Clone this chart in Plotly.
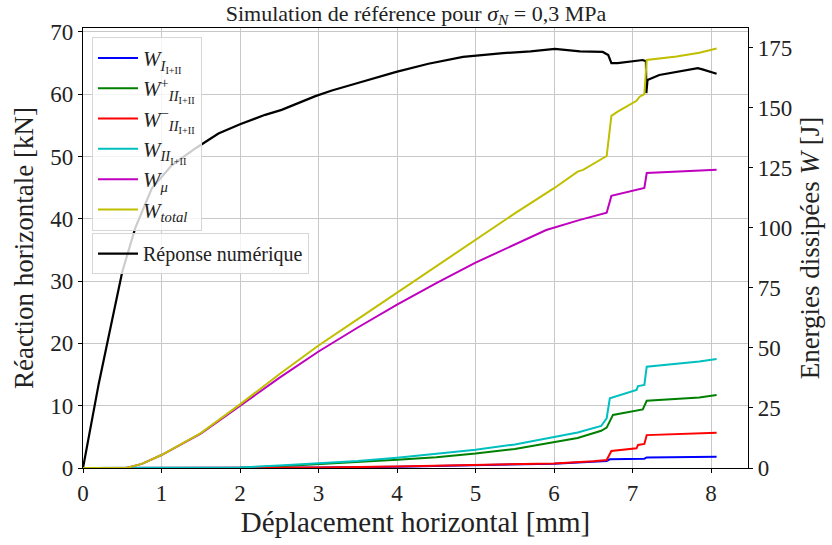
import plotly.graph_objects as go

# ---- data ----
x_rep = [0, 0.1, 0.2, 0.3, 0.4, 0.5, 0.665, 0.877, 1.13, 1.43, 1.725, 2.0, 2.32, 2.53, 2.96, 3.17, 3.5,
         3.99, 4.4, 4.84, 5.35, 5.7, 6.01, 6.1, 6.33, 6.62, 6.69, 6.73, 6.81, 7.13, 7.17, 7.175, 7.19,
         7.34, 7.56, 7.83, 7.89, 8.07]
f_rep = [0, 7, 13.5, 19.5, 25.5, 31.5, 38.5, 44.9, 48.6, 51.3, 53.7, 55.2, 56.7, 57.5, 59.7, 60.6, 61.8,
         63.6, 64.9, 66.0, 66.6, 66.9, 67.3, 67.2, 66.9, 66.8, 66.3, 65.0, 65.0, 65.5, 65.3, 60.2, 62.3,
         63.1, 63.6, 64.2, 64.0, 63.3]

x_wI = [0, 2, 3, 4, 5, 6, 6.67, 6.71, 7.15, 7.18, 8.07]
w_I = [0, 0, 0.2, 0.5, 1.0, 1.8, 2.9, 3.6, 3.9, 4.4, 4.7]

x_wIIp = [0, 1.5, 2, 2.5, 3, 3.5, 4, 4.5, 5, 5.5, 6, 6.3, 6.6, 6.67, 6.75, 7.13, 7.18, 7.85, 8.07]
w_IIp = [0, 0, 0.1, 0.7, 1.5, 2.3, 3.4, 4.5, 6.0, 7.9, 10.6, 12.5, 15.5, 16.8, 22.1, 24.4, 28.0, 29.4, 30.4]

x_wIIm = [0, 2, 3, 4, 5, 5.5, 6, 6.5, 6.67, 6.73, 7.05, 7.07, 7.15, 7.18, 7.6, 8.07]
w_IIm = [0, 0, 0.2, 0.6, 1.1, 1.5, 1.9, 2.8, 3.3, 7.1, 8.2, 9.6, 10.0, 13.7, 14.1, 14.7]

x_wII = [0, 1.5, 2, 2.5, 3, 3.5, 4, 4.5, 5, 5.5, 6, 6.3, 6.6, 6.67, 6.71, 7.05, 7.07, 7.15, 7.18, 7.68, 7.85, 8.07]
w_II = [0, 0, 0.2, 1.0, 2.0, 2.9, 4.3, 5.8, 7.6, 9.8, 12.9, 14.8, 17.5, 20.7, 29.0, 32.5, 34.1, 34.6, 42.2, 43.6, 44.3, 45.4]

x_wmu = [0, 0.55, 0.75, 1, 1.5, 2, 2.5, 3, 3.5, 4, 4.5, 5, 5.5, 5.9, 6.33, 6.67, 6.73, 7.15, 7.18, 7.6, 8.07]
w_mu = [0, 0, 1.7, 5.4, 14.3, 26, 37.5, 48.5, 58.5, 68, 77, 85.5, 93, 99.1, 103.3, 106.3, 113.3, 116.6, 122.8, 123.5, 124.2]

x_wtot = [0, 0.55, 0.75, 1.0, 1.5, 2, 2.5, 3, 3.5, 4, 4.5, 5, 5.5, 6, 6.3, 6.37, 6.67, 6.73, 6.81, 7.05, 7.09, 7.15, 7.18,
          7.56, 7.85, 8.07]
w_tot = [0, 0, 1.7, 5.4, 14.5, 26.5, 39, 51, 62, 73, 84, 95, 106, 116.5, 123.4, 124.1, 129.9, 146.6, 148.4, 152.9, 154.6,
         155.7, 169.9, 171.3, 172.9, 174.7]

x_ticks = [0, 1, 2, 3, 4, 5, 6, 7, 8]
yl_ticks = [0, 10, 20, 30, 40, 50, 60, 70]
yr_ticks = [0, 25, 50, 75, 100, 125, 150, 175]

FONT = "Liberation Serif"

fig = go.Figure()

energy = [
    (x_wI, w_I, "#0000ff", "<i>W</i><sub><i>I</i><sub>I+II</sub></sub>"),
    (x_wIIp, w_IIp, "#008000", "<i>W</i><sup>+</sup><sub><i>II</i><sub>I+II</sub></sub>"),
    (x_wIIm, w_IIm, "#ff0000", "<i>W</i><sup>−</sup><sub><i>II</i><sub>I+II</sub></sub>"),
    (x_wII, w_II, "#00bfbf", "<i>W</i><sub><i>II</i><sub>I+II</sub></sub>"),
    (x_wmu, w_mu, "#bf00bf", "<i>W</i><sub><i>μ</i></sub>"),
    (x_wtot, w_tot, "#bfbf00", "<i>W</i><sub><i>total</i></sub>"),
]
for i, (xx, yy, col, name) in enumerate(energy):
    fig.add_trace(go.Scatter(x=xx, y=yy, mode="lines", name=name, yaxis="y2",
                             line=dict(color=col, width=2), legend="legend"))

fig.add_trace(go.Scatter(x=x_rep, y=f_rep, mode="lines", name="Réponse numérique", yaxis="y",
                         line=dict(color="black", width=2.2), legend="legend2"))

axis_common = dict(showline=True, linecolor="black", linewidth=1.2, ticks="outside", ticklen=4,
                   tickcolor="black", tickfont=dict(family=FONT, size=23, color="#222"),
                   zeroline=False, automargin=False)

fig.update_layout(
    width=832, height=545,
    margin=dict(l=83, r=84, t=28, b=77),
    paper_bgcolor="white", plot_bgcolor="white",
    font=dict(family=FONT, color="#222"),
    title=dict(text="Simulation de référence pour <i>σ<sub>N</sub></i> = 0,3 MPa",
               x=0.5, xanchor="center", y=1 - 13 / 545, yanchor="middle",
               font=dict(family=FONT, size=22, color="#222")),
    xaxis=dict(range=[0, 8.47], tickvals=x_ticks, showgrid=True, gridcolor="#c8c8c8", gridwidth=1,
               mirror=True, title=dict(text="Déplacement horizontal [mm]", font=dict(family=FONT, size=29),
                                       standoff=2),
               **axis_common),
    yaxis=dict(range=[0, 70.64], tickvals=yl_ticks, showgrid=True, gridcolor="#c8c8c8", gridwidth=1,
               title=dict(text="Réaction horizontale [kN]", font=dict(family=FONT, size=27), standoff=8),
               **axis_common),
    yaxis2=dict(range=[0, 183.2], tickvals=yr_ticks, overlaying="y", side="right", showgrid=False,
                title=dict(text="Energies dissipées <i>W</i> [J]", font=dict(family=FONT, size=27), standoff=8),
                **axis_common),
    legend=dict(x=0.0135, y=0.98, xanchor="left", yanchor="top",
                bgcolor="rgba(255,255,255,0.8)", bordercolor="#d6d6d6", borderwidth=1,
                font=dict(family=FONT, size=21, color="#222"), itemwidth=40),
    legend2=dict(x=0.0135, y=0.534, xanchor="left", yanchor="top",
                 bgcolor="rgba(255,255,255,0.8)", bordercolor="#d6d6d6", borderwidth=1,
                 font=dict(family=FONT, size=20, color="#222"), itemwidth=40),
    showlegend=True,
)

fig.write_html("out.html", config={"displayModeBar": False},
               post_script="document.body.style.margin='0';")
